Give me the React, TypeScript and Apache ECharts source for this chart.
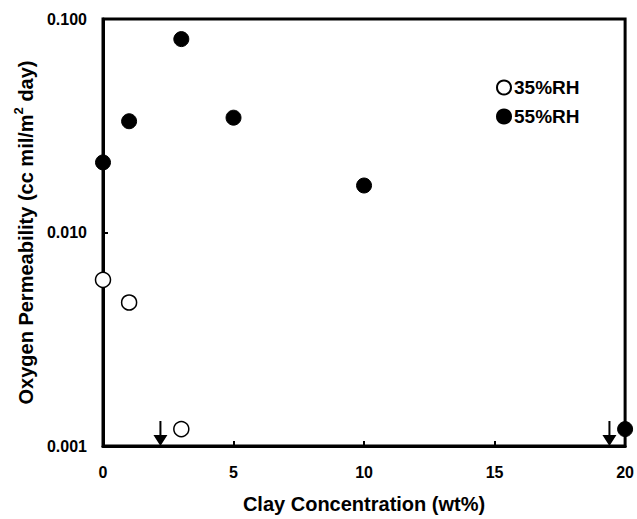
import React, { useEffect, useRef } from "react";
import * as echarts from "echarts";

const clay35 = [0, 1, 3];
const perm35 = [0.006, 0.0047, 0.0012];
const clay55 = [0, 1, 3, 5, 10, 20];
const perm55 = [0.0213, 0.0332, 0.0805, 0.0345, 0.0166, 0.0012];
const arrowX = [2.2, 19.4];
const arrowY = [0.001, 0.001];
const xTicks = [0, 5, 10, 15, 20];
const yTicks = [0.001, 0.01, 0.1];

const FONT = "'Liberation Sans', Arial, sans-serif";

export default function App() {
  const ref = useRef<HTMLDivElement>(null);
  useEffect(() => {
    if (!ref.current) return;
    const chart = echarts.init(ref.current, undefined, { renderer: "svg" });
    const zip = (a: number[], b: number[]) => a.map((v, i) => [v, b[i]]);
    chart.setOption({
      animation: false,
      backgroundColor: "#fff",
      textStyle: { fontFamily: FONT },
      grid: {
        left: 103,
        top: 19,
        right: 11,
        bottom: 70,
        show: true,
        borderColor: "#000",
        borderWidth: 3,
      },
      legend: {
        orient: "vertical",
        left: 491,
        top: 73,
        itemWidth: 14,
        itemHeight: 14,
        itemGap: 10,
        textStyle: { fontFamily: FONT, fontWeight: "bold", fontSize: 19, color: "#000", padding: [0, 0, 0, -2] },
        data: ["35%RH", "55%RH"],
      },
      xAxis: {
        type: "value",
        min: xTicks[0],
        max: xTicks[xTicks.length - 1],
        interval: 5,
        name: "Clay Concentration (wt%)",
        nameLocation: "middle",
        nameGap: 48,
        nameTextStyle: { fontFamily: FONT, fontWeight: "bold", fontSize: 20, color: "#000" },
        axisLine: { lineStyle: { color: "#000", width: 3 } },
        axisTick: { inside: true, length: 5, lineStyle: { color: "#000", width: 2 } },
        axisLabel: { fontFamily: FONT, fontWeight: "bold", fontSize: 16, color: "#000", margin: 18 },
        splitLine: { show: false },
      },
      yAxis: {
        type: "log",
        logBase: 10,
        min: yTicks[0],
        max: yTicks[yTicks.length - 1],
        name: "{a|Oxygen Permeability (cc mil/m}{sup|2}{a| day)}",
        nameLocation: "middle",
        nameGap: 63,
        nameTextStyle: {
          fontFamily: FONT,
          fontWeight: "bold",
          fontSize: 20,
          color: "#000",
          rich: {
            a: { fontFamily: FONT, fontWeight: "bold", fontSize: 20, color: "#000", lineHeight: 24, verticalAlign: "bottom" },
            sup: { fontFamily: FONT, fontWeight: "bold", fontSize: 13, color: "#000", lineHeight: 24, verticalAlign: "top" },
          },
        },
        axisLine: { lineStyle: { color: "#000", width: 3 } },
        axisTick: { inside: true, length: 5, lineStyle: { color: "#000", width: 2 } },
        axisLabel: {
          fontFamily: FONT,
          fontWeight: "bold",
          fontSize: 16,
          color: "#000",
          margin: 16,
          formatter: (v: number) => v.toFixed(3),
        },
        splitLine: { show: false },
        minorTick: { show: false },
      },
      series: [
        {
          name: "35%RH",
          type: "scatter",
          clip: false,
          symbol: "circle",
          symbolSize: 15,
          itemStyle: { color: "#fff", borderColor: "#000", borderWidth: 1.5, opacity: 1 },
          data: zip(clay35, perm35),
          z: 5,
        },
        {
          name: "55%RH",
          type: "scatter",
          clip: false,
          symbol: "circle",
          symbolSize: 15,
          itemStyle: { color: "#000", borderColor: "#000", borderWidth: 1, opacity: 1 },
          data: zip(clay55, perm55),
          z: 5,
        },
        {
          name: "arrows",
          type: "scatter",
          clip: false,
          symbol: "path://M6,0 L8,0 L8,14 L14,14 L7,25 L0,14 L6,14 Z",
          symbolSize: [14, 25],
          symbolOffset: [0, "-50%"],
          itemStyle: { color: "#000", opacity: 1 },
          data: zip(arrowX, arrowY),
          z: 4,
        },
      ],
    });
    return () => chart.dispose();
  }, []);
  return <div ref={ref} style={{ width: 637, height: 519, position: "absolute", left: 0, top: 0 }} />;
}
